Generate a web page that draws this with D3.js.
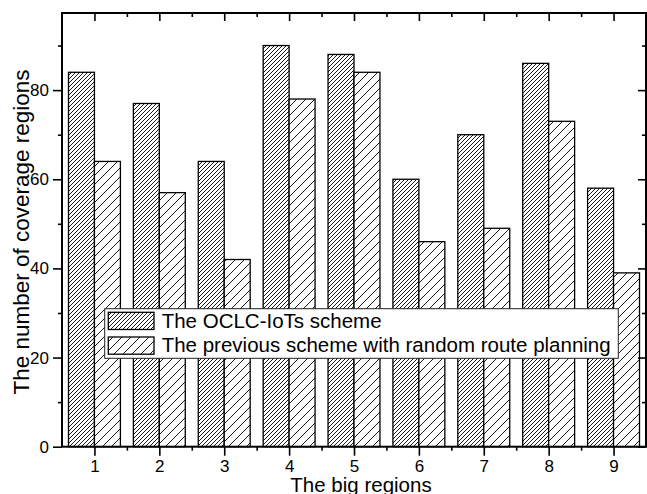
<!DOCTYPE html>
<html><head><meta charset="utf-8">
<script src="https://cdn.jsdelivr.net/npm/d3@7"></script>
<style>
html,body{margin:0;padding:0;background:#fff;}
text{font-family:"Liberation Sans",Arial,sans-serif;fill:#000;}
</style></head>
<body>
<svg id="chart" width="647" height="494"></svg>
<script>
const categories = [1,2,3,4,5,6,7,8,9];
const oclcValues = [84,77,64,90,88,60,70,86,58];
const previousValues = [64,57,42,78,84,46,49,73,39];
const seriesNames = ["The OCLC-IoTs scheme","The previous scheme with random route planning"];
const yTicks = [0,20,40,60,80];
const yMinorTicks = [10,30,50,70,90];
const xMinorTicks = [1.5,2.5,3.5,4.5,5.5,6.5,7.5,8.5];
const xTitle = "The big regions";
const yTitle = "The number of coverage regions";

const svg = d3.select("#chart");
const L = 62, R = 646, T = 13, B = 446.7;
const x = d3.scaleLinear().domain([0.5, 9.5]).range([L, R]);
const y = d3.scaleLinear().domain([0, 97.3]).range([B, T]);

const defs = svg.append("defs");
function hatch(id, step, sw) {
  const p = defs.append("pattern").attr("id", id).attr("patternUnits","userSpaceOnUse")
    .attr("width", step).attr("height", step);
  p.append("rect").attr("width", step).attr("height", step).attr("fill","#fff");
  p.append("path").attr("d", `M0,${step} L${step},0 M${-step/2},${step/2} L${step/2},${-step/2} M${step/2},${step*1.5} L${step*1.5},${step/2}`)
    .attr("stroke","#000").attr("stroke-width", sw);
}
hatch("hDense", 4, 0.9);
hatch("hSparse", 9, 0.9);

const barW = 0.4;
const series = [
  {vals: oclcValues, off: -barW, fill: "url(#hDense)"},
  {vals: previousValues, off: 0, fill: "url(#hSparse)"}
];
series.forEach(s => {
  svg.append("g").selectAll("rect").data(categories).enter().append("rect")
    .attr("x", (d) => x(d + s.off))
    .attr("width", (d) => x(d + s.off + barW) - x(d + s.off))
    .attr("y", (d,i) => y(s.vals[i]))
    .attr("height", (d,i) => y(0) - y(s.vals[i]))
    .attr("fill", s.fill).attr("stroke","#000").attr("stroke-width",1.3);
});

// axes
function styleAxis(g){ g.select(".domain").remove(); g.selectAll("line").attr("stroke","#000").attr("stroke-width",1.6); g.selectAll("text").style("font-size","17px").attr("font-family",null); }
svg.append("g").attr("transform",`translate(0,${B})`)
  .call(d3.axisBottom(x).tickValues(categories).tickFormat(d3.format("d")).tickSize(9).tickPadding(4))
  .call(styleAxis);
svg.append("g").attr("transform",`translate(0,${B})`)
  .call(d3.axisBottom(x).tickValues(xMinorTicks).tickFormat("").tickSize(4)).call(styleAxis);
svg.append("g").attr("transform",`translate(0,${T})`)
  .call(d3.axisBottom(x).tickValues(categories).tickFormat("").tickSize(8)).call(styleAxis);
svg.append("g").attr("transform",`translate(0,${T})`)
  .call(d3.axisBottom(x).tickValues(xMinorTicks).tickFormat("").tickSize(4)).call(styleAxis);
svg.append("g").attr("transform",`translate(${L},0)`)
  .call(d3.axisLeft(y).tickValues(yTicks).tickFormat(d3.format("d")).tickSize(9).tickPadding(4))
  .call(styleAxis);
svg.append("g").attr("transform",`translate(${L},0)`)
  .call(d3.axisLeft(y).tickValues(yMinorTicks).tickFormat("").tickSize(4)).call(styleAxis);
svg.append("g").attr("transform",`translate(${R},0)`)
  .call(d3.axisRight(y).tickValues(yTicks).tickFormat("").tickSize(-8)).call(styleAxis);
svg.append("g").attr("transform",`translate(${R},0)`)
  .call(d3.axisRight(y).tickValues(yMinorTicks).tickFormat("").tickSize(-4)).call(styleAxis);

svg.append("rect").attr("x",L).attr("y",T).attr("width",R-L).attr("height",B-T)
  .attr("fill","none").attr("stroke","#000").attr("stroke-width",2);

// titles
svg.append("text").attr("x",(L+R)/2 + 7).attr("y",492).attr("text-anchor","middle")
  .style("font-size","20.5px").text(xTitle);
svg.append("text").attr("transform",`translate(29,232) rotate(-90)`).attr("text-anchor","middle")
  .style("font-size","22.5px").text(yTitle);

// legend
const lg = svg.append("g");
lg.append("rect").attr("x",104.7).attr("y",308.7).attr("width",513.6).attr("height",49.6)
  .attr("fill","#fff").attr("stroke","#222").attr("stroke-width",1);
series.forEach((s,i) => {
  const yy = 312.3 + i*24.7;
  lg.append("rect").attr("x",108.3).attr("y",yy).attr("width",45.7).attr("height",17.2)
    .attr("fill",s.fill).attr("stroke","#000").attr("stroke-width",1.3);
  lg.append("text").attr("x",161.7).attr("y",327.5 + i*24.4).style("font-size","20.5px").text(seriesNames[i]);
});
</script>
</body></html>
